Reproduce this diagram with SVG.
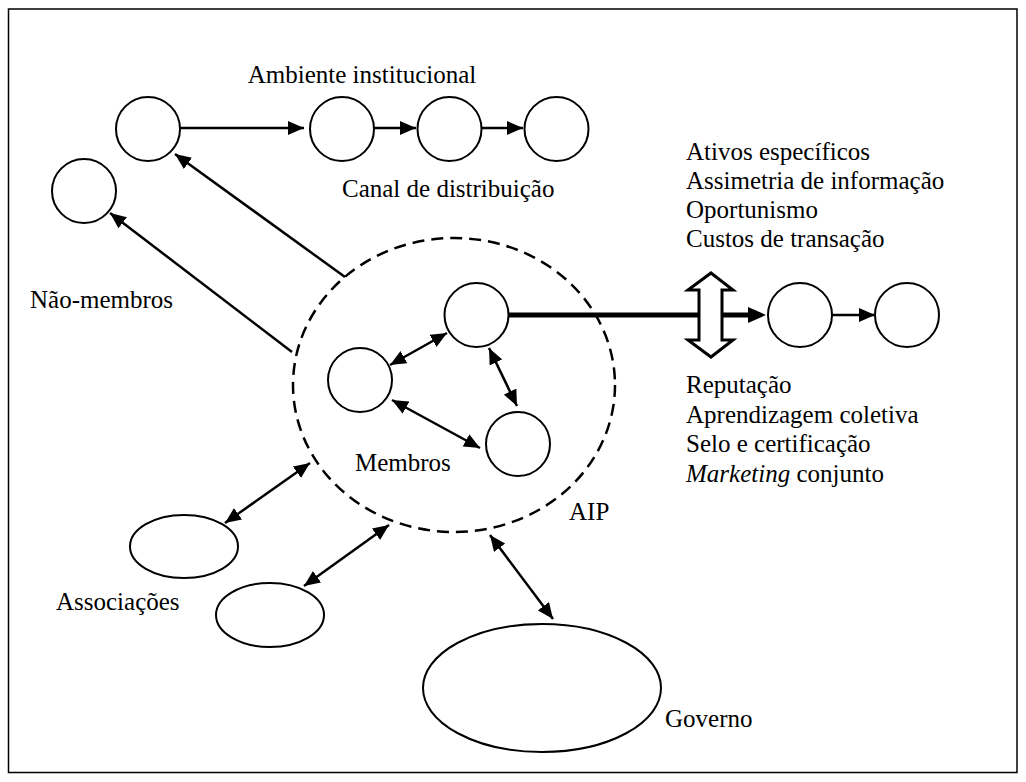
<svg xmlns="http://www.w3.org/2000/svg" width="1026" height="782" viewBox="0 0 1026 782">
<defs>
<marker id="ah" markerUnits="userSpaceOnUse" markerWidth="16" markerHeight="14" refX="16" refY="7" orient="auto-start-reverse" viewBox="0 0 16 14">
<path d="M0,0 L16,7 L0,14 z" fill="#000"/>
</marker>
</defs>
<style>
.n{fill:#fff;stroke:#000;stroke-width:2}
.c{stroke:#000;stroke-width:2.5;fill:none}
.t{font-family:"Liberation Serif","Times New Roman",serif;font-size:25px;fill:#000}
</style>
<rect x="8.5" y="9" width="1008.5" height="763.5" fill="#fff" stroke="#000" stroke-width="1.5"/>
<text class="t" x="362" y="83" text-anchor="middle">Ambiente institucional</text>

<g id="aip"><ellipse cx="454" cy="385" rx="161" ry="147" fill="none" stroke="#000" stroke-width="2.5" stroke-dasharray="12,7"/></g>

<g id="connectors">
<line class="c" x1="180" y1="128" x2="304" y2="128" marker-end="url(#ah)"/>
<line class="c" x1="374" y1="128" x2="416" y2="128" marker-end="url(#ah)"/>
<line class="c" x1="482" y1="128" x2="523" y2="128" marker-end="url(#ah)"/>
<line class="c" x1="345" y1="277" x2="175" y2="154" marker-end="url(#ah)"/>
<line class="c" x1="292" y1="352" x2="110" y2="213" marker-end="url(#ah)"/>
<line class="c" x1="390" y1="365" x2="447" y2="333" marker-start="url(#ah)" marker-end="url(#ah)"/>
<line class="c" x1="489" y1="348" x2="517" y2="406" marker-start="url(#ah)" marker-end="url(#ah)"/>
<line class="c" x1="392" y1="400" x2="480" y2="448" marker-start="url(#ah)" marker-end="url(#ah)"/>
<line class="c" x1="310" y1="463" x2="225" y2="523" marker-start="url(#ah)" marker-end="url(#ah)"/>
<line class="c" x1="389" y1="525" x2="304" y2="586" marker-start="url(#ah)" marker-end="url(#ah)"/>
<line class="c" x1="490" y1="535" x2="553" y2="619" marker-start="url(#ah)" marker-end="url(#ah)"/>
<line stroke="#000" stroke-width="5" x1="509" y1="315" x2="752" y2="315"/>
<path d="M748,307 L766,315 L748,323 z" fill="#000"/>
<path d="M711,273 L733,290 L722,290 L722,340 L733,340 L711,357 L688,340 L699,340 L699,290 L688,290 z" fill="#fff" stroke="#000" stroke-width="3" stroke-linejoin="miter"/>
<line class="c" x1="832" y1="315" x2="875" y2="315" marker-end="url(#ah)"/>
</g>

<g id="canal1"><circle class="n" cx="148" cy="129" r="32"/></g>
<g id="canal2"><circle class="n" cx="342" cy="129" r="32"/></g>
<g id="canal3"><circle class="n" cx="449.5" cy="129" r="32"/></g>
<g id="canal4"><circle class="n" cx="556.5" cy="129" r="32"/></g>
<g id="naomembro"><circle class="n" cx="84" cy="191" r="32"/></g>
<g id="membroA"><circle class="n" cx="476.5" cy="315" r="32"/></g>
<g id="membroB"><circle class="n" cx="360" cy="380" r="32"/></g>
<g id="membroC"><circle class="n" cx="518" cy="444" r="32"/></g>
<g id="extD"><circle class="n" cx="800" cy="315" r="32"/></g>
<g id="extE"><circle class="n" cx="907" cy="315" r="32"/></g>
<g id="assoc1"><ellipse class="n" cx="184" cy="546.5" rx="54" ry="31.5"/></g>
<g id="assoc2"><ellipse class="n" cx="270" cy="615" rx="54" ry="32"/></g>
<g id="governo"><ellipse class="n" cx="542" cy="688" rx="119" ry="64"/></g>

<g id="labels">
<text class="t" x="342" y="197">Canal de distribuição</text>
<text class="t" x="30" y="308">Não-membros</text>
<text class="t" x="355" y="471">Membros</text>
<text class="t" x="569" y="520">AIP</text>
<text class="t" x="56" y="610">Associações</text>
<text class="t" x="665" y="727">Governo</text>
<text class="t" x="686" y="160">Ativos específicos</text>
<text class="t" x="686" y="189">Assimetria de informação</text>
<text class="t" x="686" y="218">Oportunismo</text>
<text class="t" x="686" y="247">Custos de transação</text>
<text class="t" x="686" y="393">Reputação</text>
<text class="t" x="686" y="422.5">Aprendizagem coletiva</text>
<text class="t" x="686" y="452">Selo e certificação</text>
<text class="t" x="686" y="481.5"><tspan font-style="italic">Marketing</tspan> conjunto</text>
</g>
</svg>
